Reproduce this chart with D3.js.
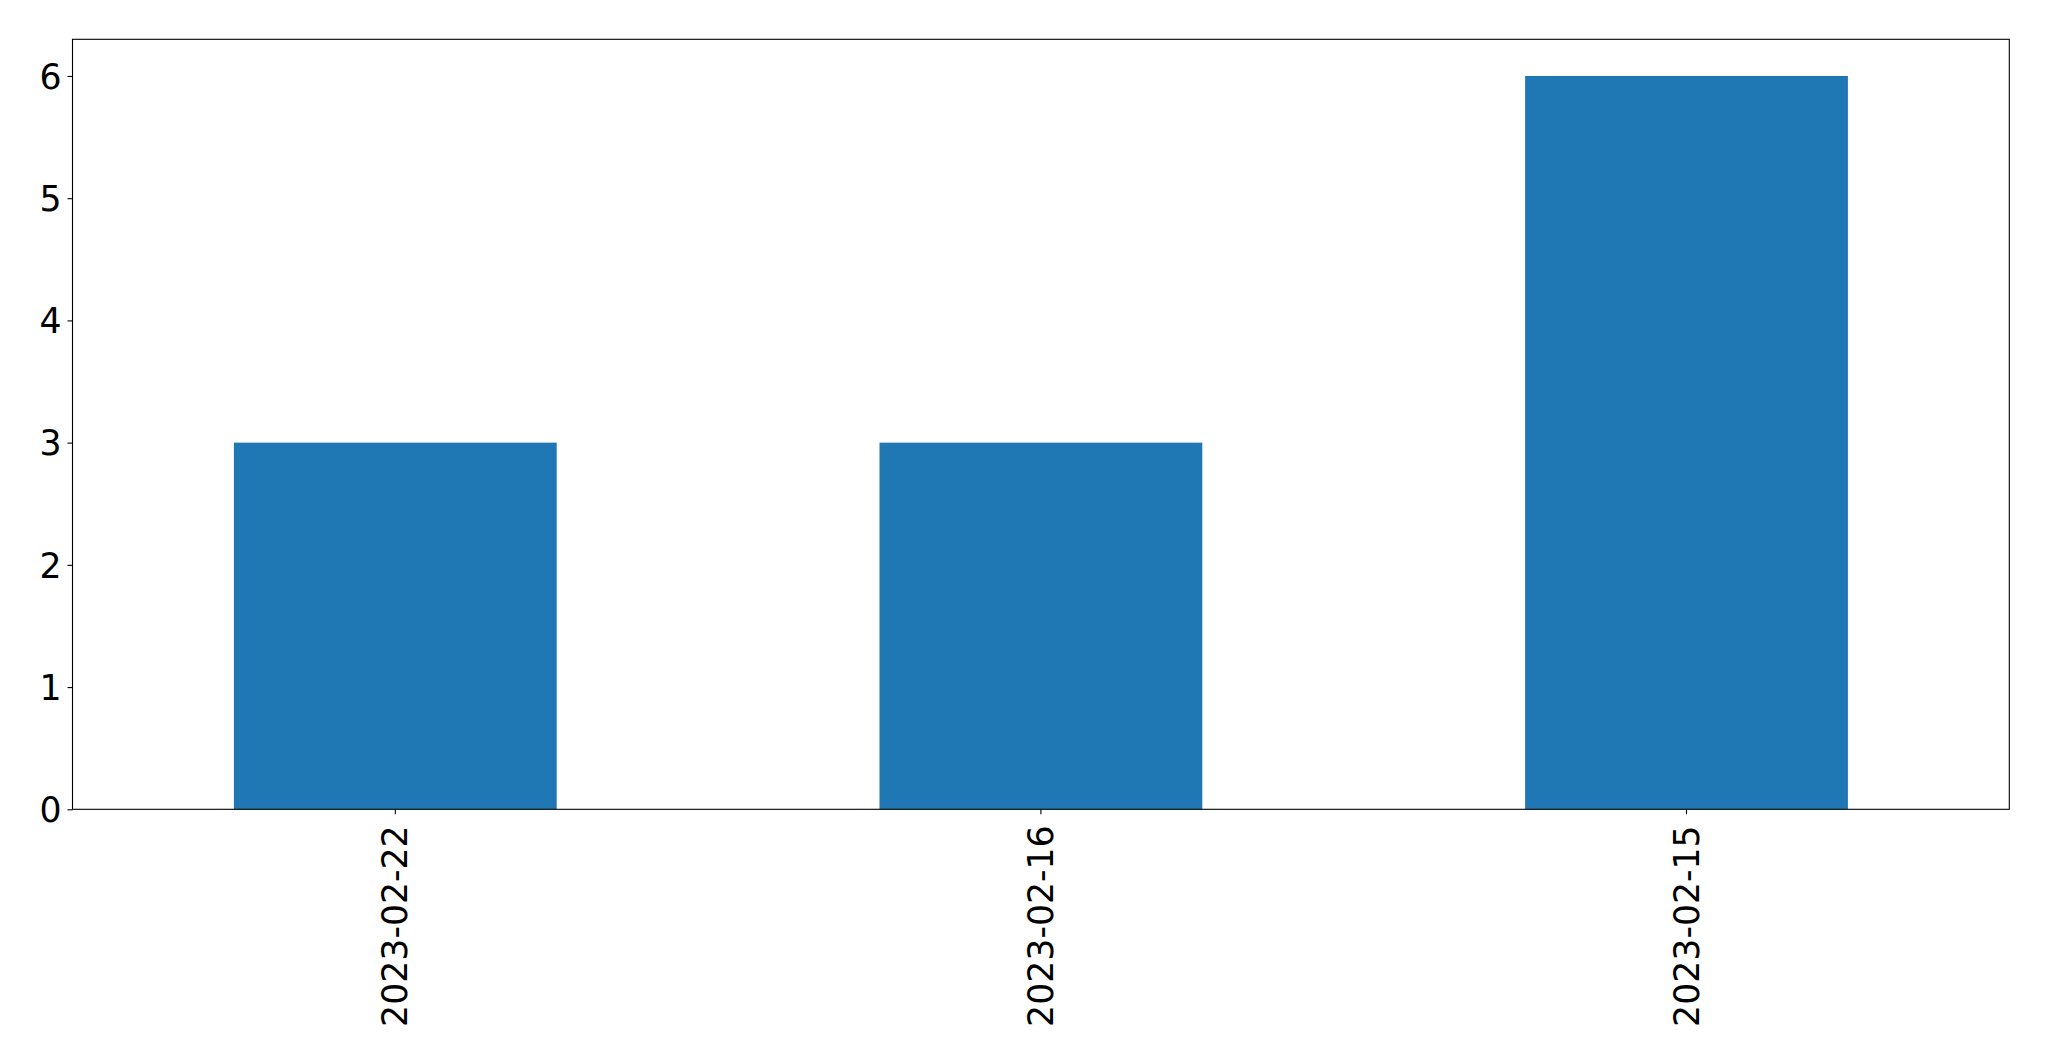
<!DOCTYPE html>
<html>
<head>
<meta charset="utf-8">
<script src="https://cdn.jsdelivr.net/npm/d3@7"></script>
<style>
  html, body { margin: 0; padding: 0; background: #fff; }
  svg { display: block; }
  text { font-family: "DejaVu Sans", sans-serif; fill: #000; }
</style>
</head>
<body>
<svg id="chart" width="2049" height="1061"></svg>
<script>
const categories = ["2023-02-22", "2023-02-16", "2023-02-15"];
const values = [3, 3, 6];
const yTicks = [0, 1, 2, 3, 4, 5, 6];

const W = 2049, H = 1061;
const margin = { left: 72.5, right: W - 2009.3, top: 39.3, bottom: H - 809.3 };
const svg = d3.select("#chart");
const iw = W - margin.left - margin.right;
const ih = H - margin.top - margin.bottom;
const g = svg.append("g").attr("transform", `translate(${margin.left},${margin.top})`);

const x = d3.scaleBand().domain(categories).range([0, iw]).paddingInner(0.5).paddingOuter(0.25);
const y = d3.scaleLinear().domain([0, 6.3]).range([ih, 0]);

g.selectAll("rect.bar").data(values).enter().append("rect")
  .attr("class", "bar")
  .attr("x", (d, i) => x(categories[i]))
  .attr("width", x.bandwidth())
  .attr("y", d => y(d))
  .attr("height", d => y(0) - y(d))
  .attr("fill", "#1f77b4");

const fs = "34.7px";
const yAxis = g.append("g").call(d3.axisLeft(y).tickValues(yTicks).tickFormat(d3.format("d")).tickSize(5).tickPadding(6));
yAxis.select(".domain").remove();
yAxis.selectAll("line").attr("stroke", "#000").attr("stroke-width", 1.1);
yAxis.selectAll("text").style("font-size", fs).attr("dy", "0.35em");

const xAxis = g.append("g").attr("transform", `translate(0,${ih})`)
  .call(d3.axisBottom(x).tickSize(5).tickPadding(6));
xAxis.select(".domain").remove();
xAxis.selectAll("line").attr("stroke", "#000").attr("stroke-width", 1.1);
xAxis.selectAll("text")
  .style("font-size", fs)
  .attr("text-anchor", "end")
  .attr("transform", "rotate(-90)")
  .attr("x", -16)
  .attr("y", 0)
  .attr("dy", "0.35em");

g.append("rect").attr("x", 0).attr("y", 0).attr("width", iw).attr("height", ih)
  .attr("fill", "none").attr("stroke", "#000").attr("stroke-width", 1.1);
</script>
</body>
</html>
